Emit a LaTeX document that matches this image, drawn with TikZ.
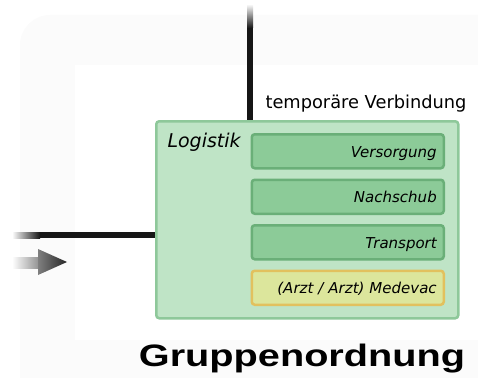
\documentclass[tikz,border=0pt]{standalone}
\usepackage{fontspec}
\setmainfont{DejaVu Sans}
\newfontfamily\headfont{Liberation Sans}
\usetikzlibrary{positioning}
\definecolor{groupfill}{HTML}{BFE4C6}
\definecolor{groupedge}{HTML}{8EC89A}
\definecolor{itemfill}{HTML}{8CCB98}
\definecolor{itemedge}{HTML}{6AAF78}
\definecolor{medfill}{HTML}{DCE69C}
\definecolor{mededge}{HTML}{E2C15E}
\definecolor{linkcol}{HTML}{161616}
\tikzset{
  group/.style={draw=groupedge, fill=groupfill, line width=2.5pt, rounded corners=3pt,
    minimum width=302pt, minimum height=197pt, inner sep=0pt},
  item/.style={draw=itemedge, fill=itemfill, line width=2.5pt, rounded corners=3pt,
    minimum width=192pt, minimum height=34pt, inner sep=0pt, text width=178pt, align=right,
    text height=14pt, text depth=2pt, font=\fontsize{15}{17}\selectfont\itshape},
  medic/.style={item, draw=mededge, fill=medfill},
  link/.style={draw=linkcol, line width=6pt}
}
\begin{document}
\begin{tikzpicture}[x=1pt,y=-1pt]
    \useasboundingbox (0,0) rectangle (478,377);
    \fill[black!1.5, rounded corners=30pt] (20,15) rectangle (520,420);
    \fill[white] (75,65) rectangle (478,340);

    \node[group, anchor=north west] (logistik) at (155,120) {};
    \node[anchor=base west, font=\fontsize{19}{22}\selectfont\itshape] (logtitle) at (164,147) {Logistik};
    \node[item, anchor=north east] (versorgung) at (445,133) {Versorgung};
    \node[item, below=9pt of versorgung] (nachschub) {Nachschub};
    \node[item, below=9pt of nachschub] (transport) {Transport};
    \node[medic, below=9pt of transport] (medevac) {(Arzt / Arzt) Medevac};

    \coordinate (vtop) at (250,28);
    \shade[top color=white, bottom color=linkcol] (247,4) rectangle (253,28);
    \draw[link] (vtop) -- (vtop |- logistik.north);
    \node[anchor=base west, font=\fontsize{17.8}{20}\selectfont] (temp) at (262,108) {temporäre Verbindung};

    \coordinate (hend) at (40,235);
    \shade[left color=white, right color=linkcol] (12,232) rectangle (40,238);
    \draw[link] (hend) -- (hend -| logistik.west);

    \shade[left color=white, right color=black!45] (12,257) rectangle (40,268);
    \shade[left color=black!50, right color=black!85] (38,249) -- (67,262) -- (38,275) -- cycle;

    \node[anchor=base, font=\headfont\bfseries\fontsize{31}{34}\selectfont] (title) at (302,366) {\scalebox{1.28}[1]{Gruppenordnung}};
\end{tikzpicture}
\end{document}
